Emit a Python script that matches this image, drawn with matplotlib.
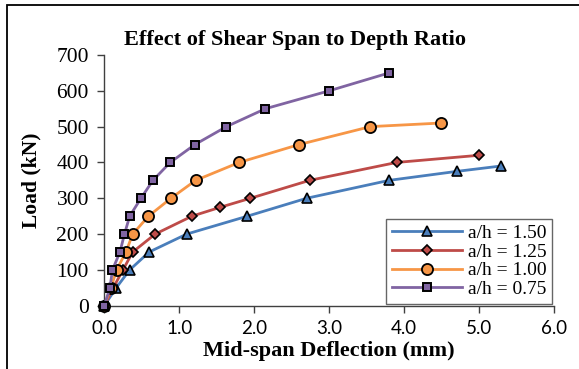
import matplotlib
matplotlib.use("Agg")
import matplotlib.pyplot as plt
from matplotlib.patches import Rectangle

# a/h = 1.50
x150 = [0.0, 0.16, 0.34, 0.60, 1.10, 1.91, 2.70, 3.80, 4.70, 5.29]
y150 = [0, 50, 100, 150, 200, 250, 300, 350, 375, 390]
# a/h = 1.25
x125 = [0.0, 0.12, 0.25, 0.38, 0.68, 1.17, 1.55, 1.95, 2.74, 3.90, 5.00]
y125 = [0, 50, 100, 150, 200, 250, 275, 300, 350, 400, 420]
# a/h = 1.00
x100 = [0.0, 0.09, 0.165, 0.29, 0.38, 0.59, 0.89, 1.22, 1.80, 2.60, 3.55, 4.49]
y100 = [0, 50, 100, 150, 200, 250, 300, 350, 400, 450, 500, 510]
# a/h = 0.75
x075 = [0.0, 0.076, 0.11, 0.21, 0.27, 0.34, 0.49, 0.65, 0.88, 1.21, 1.63, 2.15, 3.00, 3.80]
y075 = [0, 50, 100, 150, 200, 250, 300, 350, 400, 450, 500, 550, 600, 650]

xticks = [0, 1, 2, 3, 4, 5, 6]
yticks = [0, 100, 200, 300, 400, 500, 600, 700]

serif = "Liberation Serif"
sans = "Lato"

fig = plt.figure(figsize=(5.79, 3.69), dpi=100)
ax = fig.add_axes([0.180, 0.1715, 0.777, 0.6795])

# chart border (cropped on the right and bottom)
fig.patches.append(Rectangle((7/579, -0.1), 1.2, 1 - 5/369 + 0.1, transform=fig.transFigure,
                             fill=False, edgecolor="black", linewidth=1.3))

ax.plot(x150, y150, color="#4a7ebb", lw=2, marker="^", ms=7, mfc="#4a7ebb", mec="black", mew=1.2,
        label="a/h = 1.50", zorder=3)
ax.plot(x125, y125, color="#be4b48", lw=2, marker="D", ms=5.5, mfc="#be4b48", mec="black", mew=1.2,
        label="a/h = 1.25", zorder=3)
ax.plot(x100, y100, color="#f79646", lw=2, marker="o", ms=8, mfc="#f79646", mec="black", mew=1.3,
        label="a/h = 1.00", zorder=3)
ax.plot(x075, y075, color="#8064a2", lw=2, marker="s", ms=5.5, mfc="#8064a2", mec="black", mew=1.4,
        label="a/h = 0.75", zorder=3)

ax.set_xlim(0, 6)
ax.set_ylim(0, 700)
ax.set_xticks(xticks)
ax.set_xticklabels([f"{v:.1f}" for v in xticks], family=sans, fontsize=13.5)
ax.set_yticks(yticks)
ax.set_yticklabels([str(v) for v in yticks], family=serif, fontsize=15.5)
ax.tick_params(direction="out", length=5, width=1, color="#404040")
ax.tick_params(axis="x", pad=5)
ax.tick_params(axis="y", pad=6)

for s in ["top", "right"]:
    ax.spines[s].set_visible(False)
for s in ["left", "bottom"]:
    ax.spines[s].set_color("#404040")
    ax.spines[s].set_linewidth(1)
for ln in ax.lines:
    ln.set_clip_on(False)

ax.set_xlabel("Mid-span Deflection (mm)", family=serif, fontweight="bold", fontsize=16, labelpad=3)
ax.set_ylabel("Load (kN)", family=serif, fontweight="bold", fontsize=15.5, labelpad=11)
fig.text(0.509, 0.891, "Effect of Shear Span to Depth Ratio", family=serif, fontweight="bold",
         fontsize=16, ha="center", va="center")

leg = ax.legend(loc="lower right", bbox_to_anchor=(1.0, 0.0), prop={"family": serif, "size": 14},
                frameon=True, fancybox=False, handlelength=3.6, handletextpad=0.3,
                borderpad=0.3, labelspacing=0.05, borderaxespad=0.1)
leg.get_frame().set_edgecolor("#404040")
leg.get_frame().set_linewidth(1)

fig.savefig("out.png", dpi=100)
